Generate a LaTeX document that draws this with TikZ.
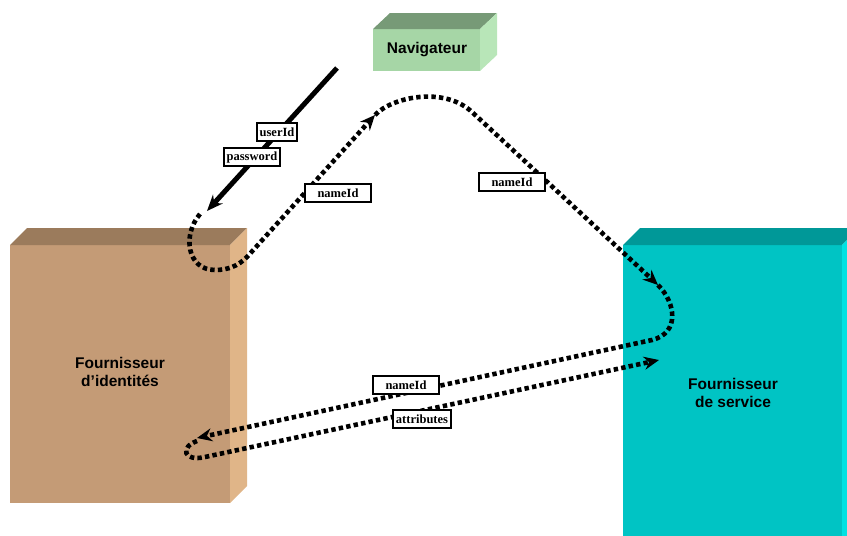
\documentclass[tikz,border=0pt]{standalone}
\usepackage{fontspec}
\setmainfont{Liberation Serif}
\setsansfont{Liberation Sans}
\usetikzlibrary{arrows.meta}

\definecolor{navfront}{HTML}{A6D6A6}
\definecolor{navtop}{HTML}{779A77}
\definecolor{navside}{HTML}{B8E6B8}
\definecolor{idfront}{HTML}{C49B76}
\definecolor{idtop}{HTML}{9B7B5C}
\definecolor{idside}{HTML}{E0B588}
\definecolor{spfront}{HTML}{00C4C4}
\definecolor{sptop}{HTML}{009898}
\definecolor{spside}{HTML}{00E2E2}

\tikzset{
  boxtext/.style={align=center, font=\sffamily\bfseries\fontsize{15.5}{18.5}\selectfont, inner sep=0pt},
  lbl/.style={draw, line width=1.8pt, fill=white, font=\bfseries\fontsize{12.5}{13}\selectfont,
    inner xsep=3pt, inner ysep=1pt, minimum height=18pt},
  widelbl/.style={lbl, minimum width=66pt},
  flow/.style={line width=4.6pt, dash pattern=on 4.4pt off 3.2pt, line cap=butt,
    -{Stealth[length=15pt,width=13pt]}},
  login/.style={line width=5pt, -{Stealth[length=16pt,width=13pt]}}
}

\begin{document}
\begin{tikzpicture}[x=1pt,y=-1pt]
\useasboundingbox (0,0) rectangle (847,536);
\clip (0,0) rectangle (847,536);

% Navigateur block
\fill[navfront] (373,29) rectangle (480,71);
\fill[navtop] (373,29) -- (390,13) -- (497,13) -- (480,29) -- cycle;
\fill[navside] (480,29) -- (497,13) -- (497,55) -- (480,71) -- cycle;
\node[boxtext] (nav) at (427,50) {Navigateur};

% identity provider block
\fill[idfront] (10,245) rectangle (230,503);
\fill[idtop] (10,245) -- (27,228) -- (247,228) -- (230,245) -- cycle;
\fill[idside] (230,245) -- (247,228) -- (247,486) -- (230,503) -- cycle;
\node[boxtext] (idp) at (120,372) {Fournisseur\\d’identités};

% service provider block
\fill[spfront] (623,245) rectangle (842,540);
\fill[sptop] (623,245) -- (640,228) -- (859,228) -- (842,245) -- cycle;
\fill[spside] (842,245) -- (859,228) -- (859,540) -- (842,540) -- cycle;
\node[boxtext] (sp) at (733,393) {Fournisseur\\de service};

% anchor points of the flows
\coordinate (login-start) at (337,68);
\coordinate (login-end) at (207,211);
\coordinate (idp-out) at (200,214);
\coordinate (idp-turn) at (247,257);
\coordinate (nav-in) at (375,115);
\coordinate (nav-turn) at (472,112);
\coordinate (sp-in) at (658,285);
\coordinate (sp-turn) at (652,340);
\coordinate (idp-in) at (197,438);
\coordinate (idp-back) at (197,441);
\coordinate (idp-turn2) at (205,457);
\coordinate (sp-in2) at (659,360);

% credentials sent by the browser
\draw[login] (login-start) -- (login-end);

% nameId back to the browser
\draw[flow] (idp-out) .. controls (182,235) and (187,270) .. (215,270)
  .. controls (228,270) and (238,266) .. (idp-turn) -- (nav-in);
% nameId forwarded to the service provider
\draw[flow] (nav-in) .. controls (392,97) and (444,86) .. (nav-turn) -- (sp-in);
% nameId query to the identity provider
\draw[flow] (sp-in) .. controls (676,303) and (680,333) .. (sp-turn) -- (idp-in);
% attributes returned
\draw[flow] (idp-back) .. controls (180,447) and (183,462) .. (idp-turn2) -- (sp-in2);

% message labels
\node[lbl] (l-user) at (277,132) {userId};
\node[lbl] (l-pass) at (252,157) {password};
\node[widelbl] (l-name1) at (338,193) {nameId};
\node[widelbl] (l-name2) at (512,182) {nameId};
\node[widelbl] (l-name3) at (406,385) {nameId};
\node[lbl] (l-attr) at (422,419) {attributes};
\end{tikzpicture}
\end{document}
